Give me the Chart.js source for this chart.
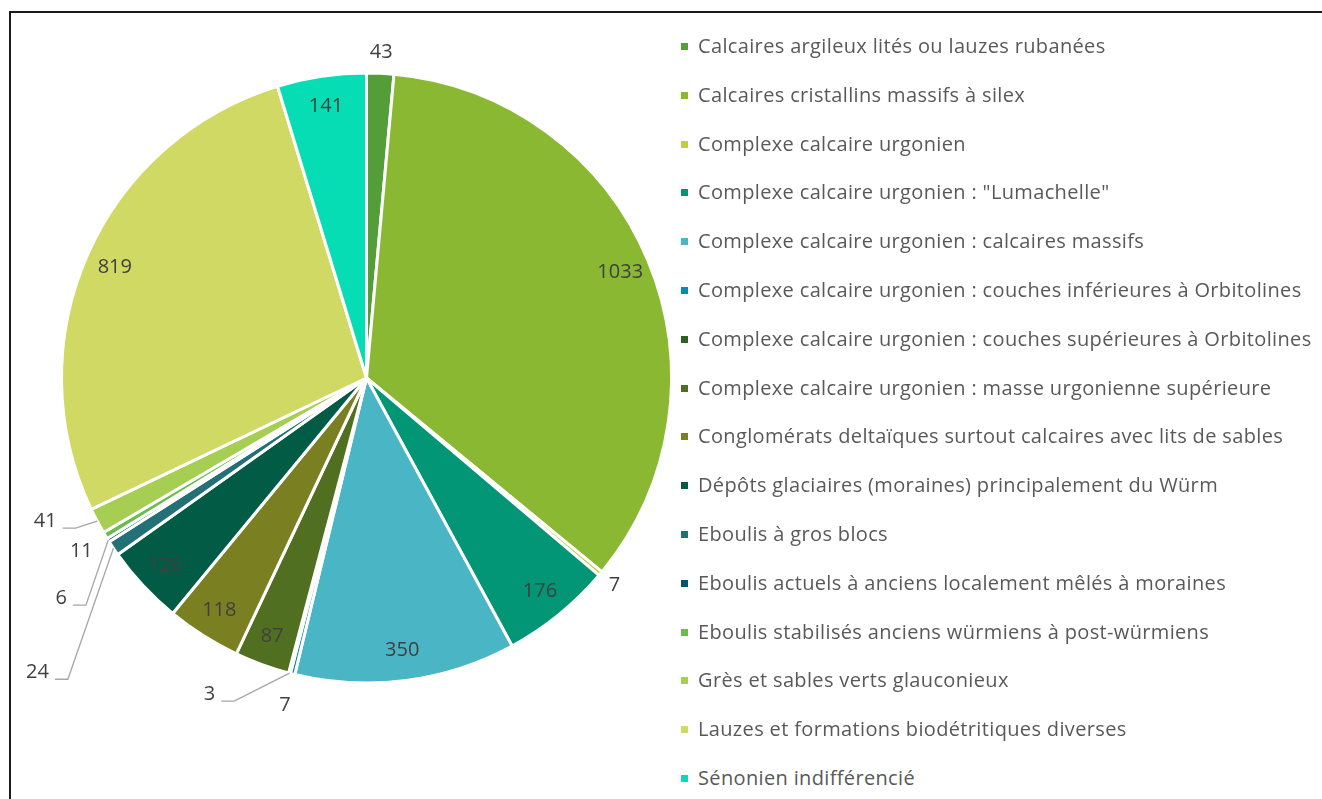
<!DOCTYPE html>
<html>
<head>
<meta charset="utf-8">
<script src="https://cdn.jsdelivr.net/npm/chart.js@4"></script>
<style>
  html, body { margin: 0; padding: 0; background: #fff; }
  body { width: 1322px; height: 799px; position: relative; overflow: hidden; font-family: "Open Sans", sans-serif; }
  #frame { position: absolute; left: 9px; top: 11px; right: -10px; bottom: -10px; border-top: 2px solid #1a1a1a; border-left: 2px solid #1a1a1a; }
  #pie { position: absolute; left: 0; top: 0; width: 733px; height: 756px; }
  #legend { position: absolute; left: 681px; top: 0; margin: 0; padding: 0; list-style: none; }
  #legend li { position: absolute; left: 0; white-space: nowrap; height: 24px; line-height: 24px; font-size: 20px; letter-spacing: 0.35px; color: #595959; }
  #legend .box { position: absolute; left: 0; top: 9px; width: 7px; height: 7px; }
  #legend .txt { position: absolute; left: 17px; top: 0; }
</style>
</head>
<body>
<div id="frame"></div>
<div id="pie"><canvas id="chart"></canvas></div>
<ul id="legend"></ul>
<script>
const categories = [
  'Calcaires argileux lités ou lauzes rubanées',
  'Calcaires cristallins massifs à silex',
  'Complexe calcaire urgonien',
  'Complexe calcaire urgonien : "Lumachelle"',
  'Complexe calcaire urgonien : calcaires massifs',
  'Complexe calcaire urgonien : couches inférieures à Orbitolines',
  'Complexe calcaire urgonien : couches supérieures à Orbitolines',
  'Complexe calcaire urgonien : masse urgonienne supérieure',
  'Conglomérats deltaïques surtout calcaires avec lits de sables',
  'Dépôts glaciaires (moraines) principalement du Würm',
  'Eboulis à gros blocs',
  'Eboulis actuels à anciens localement mêlés à moraines',
  'Eboulis stabilisés anciens würmiens à post-würmiens',
  'Grès et sables verts glauconieux',
  'Lauzes et formations biodétritiques diverses',
  'Sénonien indifférencié'
]
const values = [43, 1033, 7, 176, 350, 7, 3, 87, 118, 126, 24, 6, 11, 41, 819, 141]
const colors = [
  '#549E39', '#8AB833', '#C0CF3A', '#029676', '#4AB5C4', '#0989B1',
  '#2F5F22', '#516F20', '#7A7F21', '#025C45', '#237177', '#065370',
  '#6ABC4F', '#A5CE53', '#CFD963', '#06DDB4'
]

// how each value label sits: inside the slice, just outside, or off to the side with a leader line
const labelPlace = [
  { mode: 'out', gap: 21 },
  { mode: 'in' },
  { mode: 'out', gap: 18 },
  { mode: 'in' },
  { mode: 'in' },
  { mode: 'out', gap: 32 },
  { mode: 'leader', dx: -80, dy: 21 },
  { mode: 'in' },
  { mode: 'in' },
  { mode: 'in' },
  { mode: 'leader', dx: -76, dy: 124 },
  { mode: 'leader', dx: -47, dy: 58 },
  { mode: 'side', dx: -24, dy: 16 },
  { mode: 'leader', dx: -52, dy: 0 },
  { mode: 'in' },
  { mode: 'in' }
]

const sliceLabels = {
  id: 'sliceLabels',
  afterDatasetsDraw(chart) {
    const ctx = chart.ctx
    const arcs = chart.getDatasetMeta(0).data
    ctx.save()
    ctx.font = '20px "Open Sans", sans-serif'
    ctx.fillStyle = '#404040'
    ctx.textAlign = 'center'
    ctx.textBaseline = 'middle'
    arcs.forEach((arc, i) => {
      const { x, y, startAngle, endAngle, outerRadius } = arc.getProps(['x', 'y', 'startAngle', 'endAngle', 'outerRadius'], true)
      const mid = (startAngle + endAngle) / 2
      const cos = Math.cos(mid), sin = Math.sin(mid)
      const text = String(values[i])
      const place = labelPlace[i]
      if (place.mode === 'in' || place.mode === 'out') {
        const r = place.mode === 'in' ? outerRadius - 30 : outerRadius + place.gap
        ctx.fillText(text, x + cos * r, y + sin * r)
        return
      }
      const ex = x + cos * outerRadius
      const ey = y + sin * outerRadius
      const lx = ex + place.dx
      const ly = ey + place.dy
      if (place.mode === 'leader') {
        const right = lx + ctx.measureText(text).width / 2
        ctx.strokeStyle = '#A6A6A6'
        ctx.lineWidth = 1.3
        ctx.beginPath()
        ctx.moveTo(ex, ey)
        ctx.lineTo(right + 19, ly + 7)
        ctx.lineTo(right + 6, ly + 7)
        ctx.stroke()
      }
      ctx.fillText(text, lx, ly)
    })
    ctx.restore()
  }
}

new Chart(document.getElementById('chart'), {
  type: 'pie',
  data: {
    labels: categories,
    datasets: [{
      data: values,
      backgroundColor: colors,
      borderColor: '#ffffff',
      borderWidth: 3,
      hoverOffset: 0
    }]
  },
  options: {
    responsive: true,
    maintainAspectRatio: false,
    animation: false,
    radius: 305,
    layout: { padding: 0 },
    plugins: {
      legend: { display: false },
      tooltip: { enabled: false }
    }
  },
  plugins: [sliceLabels]
})

// legend built from the same arrays
const legend = document.getElementById('legend')
categories.forEach((name, i) => {
  const li = document.createElement('li')
  li.style.top = (46 + i * 48.8 - 12) + 'px'
  const box = document.createElement('span')
  box.className = 'box'
  box.style.background = colors[i]
  const txt = document.createElement('span')
  txt.className = 'txt'
  txt.textContent = name
  li.appendChild(box)
  li.appendChild(txt)
  legend.appendChild(li)
})
</script>
</body>
</html>
